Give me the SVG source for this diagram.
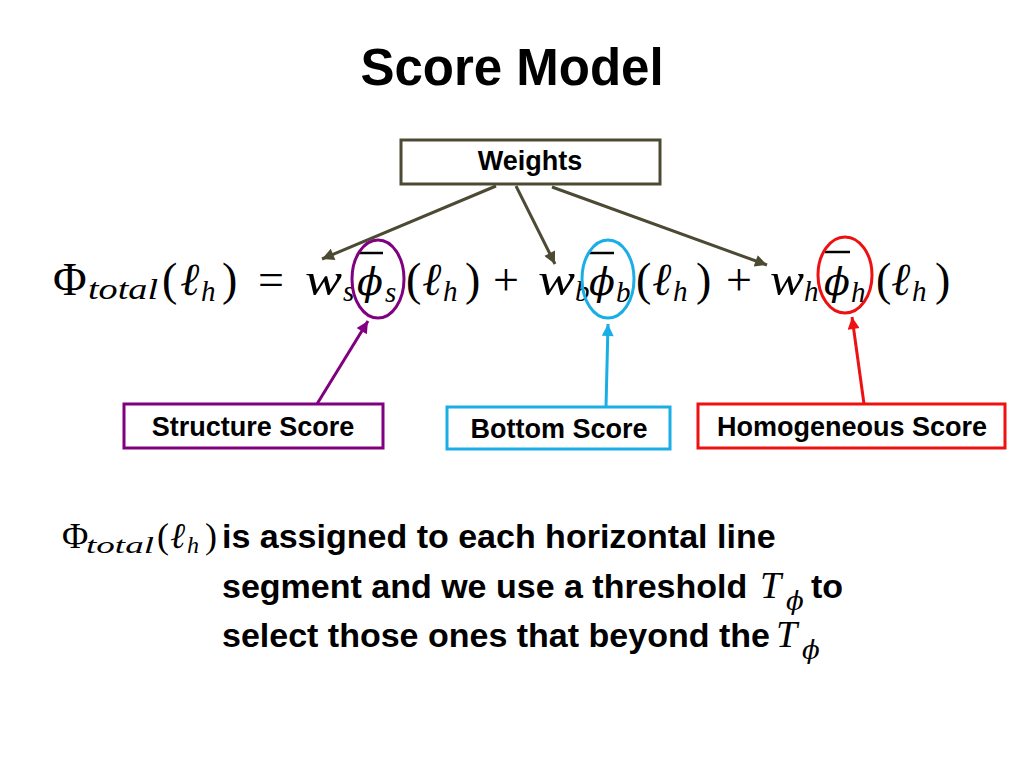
<svg xmlns="http://www.w3.org/2000/svg" width="1024" height="768" viewBox="0 0 1024 768">
  <style>
    .title{font-family:"Liberation Sans",Arial,sans-serif;font-weight:bold;font-size:51px;fill:#000}
    .lbl{font-family:"Liberation Sans",Arial,sans-serif;font-weight:bold;font-size:27px;fill:#000}
    .body{font-family:"Liberation Sans",Arial,sans-serif;font-weight:bold;font-size:34px;fill:#000}
    .m{font-family:"Liberation Serif","DejaVu Serif",serif;font-size:46px;fill:#000}
    .mi{font-family:"Liberation Serif","DejaVu Serif",serif;font-style:italic;font-size:46px;fill:#000}
    .ms{font-family:"Liberation Serif","DejaVu Serif",serif;font-style:italic;font-size:29px;fill:#000}
    .phi{font-family:"DejaVu Serif",serif;font-style:italic;font-weight:normal;font-size:38px;fill:#000}
    .phis{font-family:"DejaVu Serif",serif;font-style:italic;font-size:26px;fill:#000}
    .sm{font-family:"Liberation Serif","DejaVu Serif",serif;font-size:36px;fill:#000}
    .smi{font-family:"Liberation Serif","DejaVu Serif",serif;font-style:italic;font-size:36px;fill:#000}
    .sms{font-family:"Liberation Serif","DejaVu Serif",serif;font-style:italic;font-size:24px;fill:#000}
    .box{fill:#fff;stroke-width:3}
    .bar{stroke:#000;stroke-width:2.5}
    .conn{fill:none;stroke-width:3}
  </style>
  <defs>
    <marker id="ahO" viewBox="0 0 10 10" refX="10" refY="5" markerWidth="5" markerHeight="4" orient="auto">
      <path d="M0,0 L10,5 L0,10 z" fill="#4d4a33"/>
    </marker>
    <marker id="ahP" viewBox="0 0 10 10" refX="10" refY="5" markerWidth="5" markerHeight="4" orient="auto">
      <path d="M0,0 L10,5 L0,10 z" fill="#800080"/>
    </marker>
    <marker id="ahB" viewBox="0 0 10 10" refX="10" refY="5" markerWidth="5" markerHeight="4" orient="auto">
      <path d="M0,0 L10,5 L0,10 z" fill="#1aaee6"/>
    </marker>
    <marker id="ahR" viewBox="0 0 10 10" refX="10" refY="5" markerWidth="5" markerHeight="4" orient="auto">
      <path d="M0,0 L10,5 L0,10 z" fill="#ee1111"/>
    </marker>
  </defs>
  <rect width="1024" height="768" fill="#fff"/>

  <text class="title" x="512" y="85" text-anchor="middle">Score Model</text>

  <g id="formula">
    <text class="m" x="53" y="295">Φ</text>
    <text class="ms" x="88" y="299" textLength="70" lengthAdjust="spacingAndGlyphs">total</text>
    <text class="m" x="162" y="295">(</text>
    <text class="mi" x="180" y="295">ℓ</text>
    <text class="ms" x="201" y="301">h</text>
    <text class="m" x="222" y="295">)</text>
    <text class="m" x="271" y="295" text-anchor="middle">=</text>
    <text class="mi" x="305" y="295" textLength="37" lengthAdjust="spacingAndGlyphs">w</text>
    <text class="ms" x="343" y="301">s</text>
    <text class="phi" x="357" y="295">ϕ</text>
    <line class="bar" x1="358" y1="253" x2="383" y2="253"/>
    <text class="ms" x="385" y="302">s</text>
    <text class="m" x="406" y="295">(</text>
    <text class="mi" x="422" y="295">ℓ</text>
    <text class="ms" x="443" y="301">h</text>
    <text class="m" x="465" y="295">)</text>
    <text class="m" x="506" y="295" text-anchor="middle">+</text>
    <text class="mi" x="538" y="295" textLength="37" lengthAdjust="spacingAndGlyphs">w</text>
    <text class="ms" x="575" y="301">b</text>
    <text class="phi" x="589" y="295">ϕ</text>
    <line class="bar" x1="588" y1="253" x2="614" y2="253"/>
    <text class="ms" x="616" y="302">b</text>
    <text class="m" x="636" y="295">(</text>
    <text class="mi" x="652" y="295">ℓ</text>
    <text class="ms" x="673" y="301">h</text>
    <text class="m" x="696" y="295">)</text>
    <text class="m" x="739" y="295" text-anchor="middle">+</text>
    <text class="mi" x="770" y="295" textLength="34" lengthAdjust="spacingAndGlyphs">w</text>
    <text class="ms" x="804" y="301">h</text>
    <text class="phi" x="824" y="295">ϕ</text>
    <line class="bar" x1="825" y1="252" x2="850" y2="252"/>
    <text class="ms" x="851" y="302">h</text>
    <text class="m" x="876" y="295">(</text>
    <text class="mi" x="891" y="295">ℓ</text>
    <text class="ms" x="912" y="301">h</text>
    <text class="m" x="935" y="295">)</text>
  </g>

  <g id="highlight-s"><ellipse cx="378" cy="279" rx="26" ry="39" fill="none" stroke="#800080" stroke-width="3"/></g>
  <g id="highlight-b"><ellipse cx="608" cy="279" rx="26" ry="39" fill="none" stroke="#1aaee6" stroke-width="3"/></g>
  <g id="highlight-h"><ellipse cx="845" cy="275" rx="27" ry="38" fill="none" stroke="#ee1111" stroke-width="3"/></g>

  <g id="weights">
    <rect class="box" x="401" y="140" width="259" height="44" stroke="#4d4a33"/>
    <text class="lbl" x="530" y="170" text-anchor="middle">Weights</text>
  </g>
  <g id="structure-score">
    <rect class="box" x="124" y="404" width="259" height="44" stroke="#800080"/>
    <text class="lbl" x="253" y="436" text-anchor="middle">Structure Score</text>
  </g>
  <g id="bottom-score">
    <rect class="box" x="447" y="407" width="223" height="42" stroke="#1aaee6"/>
    <text class="lbl" x="559" y="438" text-anchor="middle">Bottom Score</text>
  </g>
  <g id="homogeneous-score">
    <rect class="box" x="698" y="404" width="307" height="44" stroke="#ee1111"/>
    <text class="lbl" x="852" y="436" text-anchor="middle">Homogeneous Score</text>
  </g>

  <g id="connectors">
    <line class="conn" x1="496" y1="186" x2="322" y2="259" stroke="#4d4a33" marker-end="url(#ahO)"/>
    <line class="conn" x1="516" y1="186" x2="555" y2="264" stroke="#4d4a33" marker-end="url(#ahO)"/>
    <line class="conn" x1="552" y1="187" x2="767" y2="265" stroke="#4d4a33" marker-end="url(#ahO)"/>
    <line class="conn" x1="317" y1="404" x2="368" y2="321" stroke="#800080" marker-end="url(#ahP)"/>
    <line class="conn" x1="606" y1="407" x2="608" y2="324" stroke="#1aaee6" marker-end="url(#ahB)"/>
    <line class="conn" x1="864" y1="404" x2="852" y2="317" stroke="#ee1111" marker-end="url(#ahR)"/>
  </g>

  <g id="description">
    <text class="sm" x="62" y="548">Φ</text>
    <text class="sms" x="86" y="553" textLength="68" lengthAdjust="spacingAndGlyphs">total</text>
    <text class="sm" x="157" y="548">(</text>
    <text class="smi" x="170" y="548">ℓ</text>
    <text class="sms" x="187" y="553">h</text>
    <text class="sm" x="205" y="548">)</text>
    <text class="body" x="222" y="548">is assigned to each horizontal line</text>
    <text class="body" x="222" y="598">segment and we use a threshold</text>
    <text class="mi" x="760" y="598" style="font-size:38px">T</text>
    <text class="phis" x="786" y="610">ϕ</text>
    <text class="body" x="811" y="598">to</text>
    <text class="body" x="222" y="647">select those ones that beyond the</text>
    <text class="mi" x="776" y="647" style="font-size:38px">T</text>
    <text class="phis" x="802" y="659">ϕ</text>
  </g>
</svg>
